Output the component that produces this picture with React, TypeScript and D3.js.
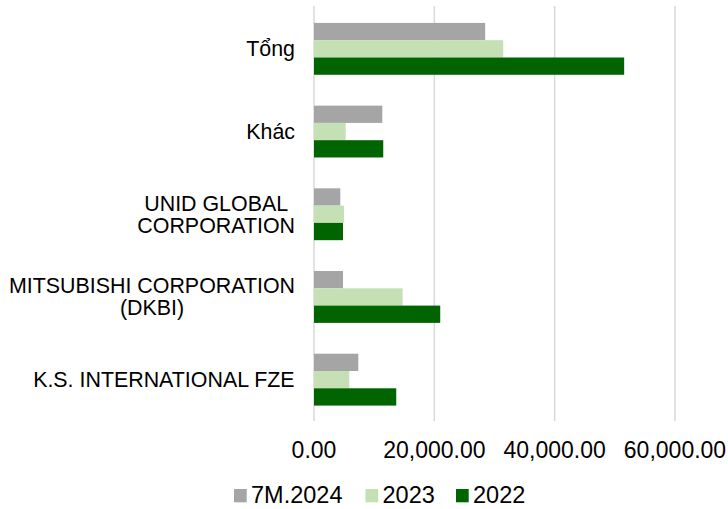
import React from "react";
import * as d3 from "d3";

const categories = ["Tổng", "Khác", "UNID GLOBAL\nCORPORATION", "MITSUBISHI CORPORATION\n(DKBI)", "K.S. INTERNATIONAL FZE"];
const seriesNames = ["7M.2024", "2023", "2022"];
const values7M2024 = [28450, 11350, 4370, 4820, 7360];
const values2023 = [31450, 5270, 4980, 14730, 5860];
const values2022 = [51550, 11510, 4820, 20980, 13670];
const colors = ["#A5A5A5", "#C5E0B4", "#006400"];
const xTicks = [0, 20000, 40000, 60000];

const W = 728;
const H = 509;
const FONT = "'Liberation Sans', Arial, sans-serif";

function measure(text: string, size: number): number {
  if (typeof document === "undefined") return text.length * size * 0.6;
  const c = document.createElement("canvas").getContext("2d");
  if (!c) return text.length * size * 0.6;
  c.font = `${size}px 'Liberation Sans', Arial, sans-serif`;
  return c.measureText(text).width;
}

export default function App() {
  const x = d3.scaleLinear().domain([0, 60000]).range([314, 675]);
  const y = d3.scaleBand<string>().domain(categories).range([7.5, 421]).paddingInner(0.373).paddingOuter(0.1865);
  const y1 = d3.scaleBand<string>().domain(seriesNames).range([0, y.bandwidth()]);
  const series = [values7M2024, values2023, values2022];
  const fmt = d3.format(",.2f");
  const catSize = 21.4;
  const labelRight = 295;

  const legendItems = [
    { name: seriesNames[0], sq: 234, tx: 251 },
    { name: seriesNames[1], sq: 365.5, tx: 382.5 },
    { name: seriesNames[2], sq: 456, tx: 473 },
  ];

  return (
    <svg width={W} height={H} style={{ position: "absolute", left: 0, top: 0, background: "#fff" }} fontFamily={FONT}>
      <rect x={0} y={0} width={W} height={H} fill="#fff" />
      {xTicks.map((t) => (
        <line key={t} x1={x(t)} x2={x(t)} y1={6} y2={421} stroke="#D9D9D9" strokeWidth={1.5} />
      ))}
      {categories.map((c, ci) => (
        <g key={c} transform={`translate(0,${y(c)})`}>
          {series.map((vals, si) => (
            <rect
              key={si}
              x={x(0)}
              y={y1(seriesNames[si])}
              width={x(vals[ci]) - x(0)}
              height={y1.bandwidth()}
              fill={colors[si]}
            />
          ))}
        </g>
      ))}
      {categories.map((c) => {
        const lines = c.split("\n");
        const maxW = Math.max(...lines.map((l) => measure(l, catSize)));
        const cx = labelRight - maxW / 2;
        const cy = (y(c) as number) + y.bandwidth() / 2;
        const lh = 22;
        const start = cy - ((lines.length - 1) * lh) / 2;
        return (
          <text key={c} fontSize={catSize} fill="#000" textAnchor="middle">
            {lines.map((l, i) => (
              <tspan key={i} x={cx} y={start + i * lh} dy="0.35em">
                {l}
              </tspan>
            ))}
          </text>
        );
      })}
      {xTicks.map((t) => (
        <text key={t} x={x(t)} y={458} fontSize={23} textAnchor="middle" fill="#000">
          {fmt(t)}
        </text>
      ))}
      {legendItems.map((it, i) => (
        <g key={it.name}>
          <rect x={it.sq} y={489} width={12.7} height={13.3} fill={colors[i]} />
          <text x={it.tx} y={503} fontSize={23.5} fill="#000">
            {it.name}
          </text>
        </g>
      ))}
    </svg>
  );
}
